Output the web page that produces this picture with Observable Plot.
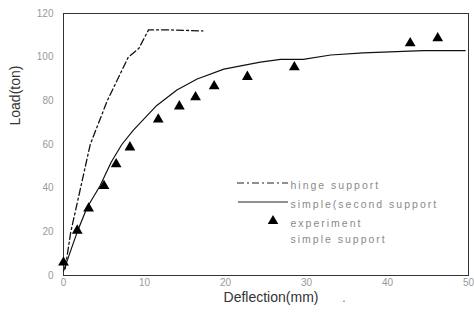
<!DOCTYPE html>
<html>
<head>
<meta charset="utf-8">
<script src="https://cdn.jsdelivr.net/npm/d3@7"></script>
<script src="https://cdn.jsdelivr.net/npm/@observablehq/plot@0.6"></script>
<style>
  html, body { margin: 0; padding: 0; background: #fff; }
  #chart { width: 474px; height: 326px; }
</style>
</head>
<body>
<div id="chart"></div>
<script>
// Hinge support (dash-dot line)
const hingeX = [0.2, 0.9, 2.1, 3.3, 5.4, 8.0, 9.3, 10.5, 13.0, 17.2];
const hingeY = [3, 20, 40, 60, 80, 100, 104, 112.5, 112.5, 112];

// Simple (second) support (solid line)
const simpleX = [0, 1.7, 2.9, 4.5, 5.9, 7.2, 8.6, 10.0, 11.4, 14.0, 16.5, 19.8, 24.3, 26.8, 29.6, 33.0, 37.0, 44.4, 49.6];
const simpleY = [2, 20, 31, 41, 52, 60, 66.5, 72, 77.5, 85, 90, 94.5, 97.7, 99, 99, 101, 102, 103, 103];

// Experiment, simple support (triangles)
const expX = [0, 1.7, 3.1, 5.0, 6.5, 8.2, 11.7, 14.3, 16.3, 18.6, 22.7, 28.5, 42.8, 46.2];
const expY = [6, 20.6, 30.7, 41, 51, 58.7, 71.5, 77.5, 81.7, 86.7, 91, 95.4, 106.4, 108.7];

const xTicks = [0, 10, 20, 30, 40, 50];
const xTickLabels = ["0", "10", "20", "30", "40", "50"];
const yTicks = [0, 20, 40, 60, 80, 100, 120];

const legendLabels = ["hinge support", "simple(second support", "experiment", "simple support"];

const hinge = hingeX.map((x, i) => ({x, y: hingeY[i]}));
const simple = simpleX.map((x, i) => ({x, y: simpleY[i]}));
const exp = expX.map((x, i) => ({x, y: expY[i]}));

const font = "Liberation Sans, Arial, sans-serif";
const dashDot = "7,3,2,3";
const legendDy = [168, 187, 206, 222];

const plot = Plot.plot({
  width: 474,
  height: 326,
  marginLeft: 63,
  marginRight: 6,
  marginTop: 13,
  marginBottom: 51,
  style: {fontFamily: font, background: "#fff"},
  x: {domain: [0, 50]},
  y: {domain: [0, 120]},
  marks: [
    Plot.frame({stroke: "#333", strokeWidth: 1}),
    Plot.axisX({ticks: xTicks, tickFormat: (d, i) => xTickLabels[i], tickSize: 0, tickPadding: 3, fontSize: 10, fill: "#999", label: null}),
    Plot.axisY({ticks: yTicks, tickSize: 0, tickPadding: 10, fontSize: 10, fill: "#999", label: null}),
    Plot.line(hinge, {x: "x", y: "y", stroke: "#111", strokeWidth: 1.3, strokeDasharray: dashDot}),
    Plot.line(simple, {x: "x", y: "y", stroke: "#111", strokeWidth: 1.2}),
    Plot.dot(exp, {x: "x", y: "y", symbol: "triangle", fill: "#000", stroke: "none", r: 4}),
    // axis titles
    Plot.text(["Load(ton)"], {frameAnchor: "left", rotate: -90, dx: -48, dy: -19, fontSize: 14, fill: "#333", fontFamily: font}),
    Plot.text(["Deflection(mm)"], {frameAnchor: "bottom", dx: 5, dy: 26, fontSize: 14, fill: "#333", fontFamily: font}),
    Plot.text(["."], {frameAnchor: "bottom", dx: 78, dy: 26, fontSize: 12, fill: "#666", fontFamily: font}),
    // legend labels
    ...legendLabels.map((t, i) => Plot.text([t], {frameAnchor: "top-left", dx: 227, dy: legendDy[i], textAnchor: "start", fontSize: 10.5, fill: "#8a8a8a", fontFamily: font}))
  ]
});

const svg = d3.select(plot);
// widen legend label spacing like the reference
svg.selectAll("text").filter(function () { return legendLabels.includes(this.textContent); })
  .attr("letter-spacing", 2);

// Legend symbols drawn in pixel space on top of the plot
const lg = svg.append("g");
lg.append("line").attr("x1", 237).attr("x2", 288).attr("y1", 183).attr("y2", 183)
  .attr("stroke", "#222").attr("stroke-width", 1.2).attr("stroke-dasharray", dashDot);
lg.append("line").attr("x1", 238).attr("x2", 288).attr("y1", 202).attr("y2", 202)
  .attr("stroke", "#222").attr("stroke-width", 1.2);
lg.append("path").attr("d", d3.symbol(d3.symbolTriangle, 48)()).attr("transform", "translate(273,221)").attr("fill", "#000");

document.getElementById("chart").appendChild(plot);
</script>
</body>
</html>
